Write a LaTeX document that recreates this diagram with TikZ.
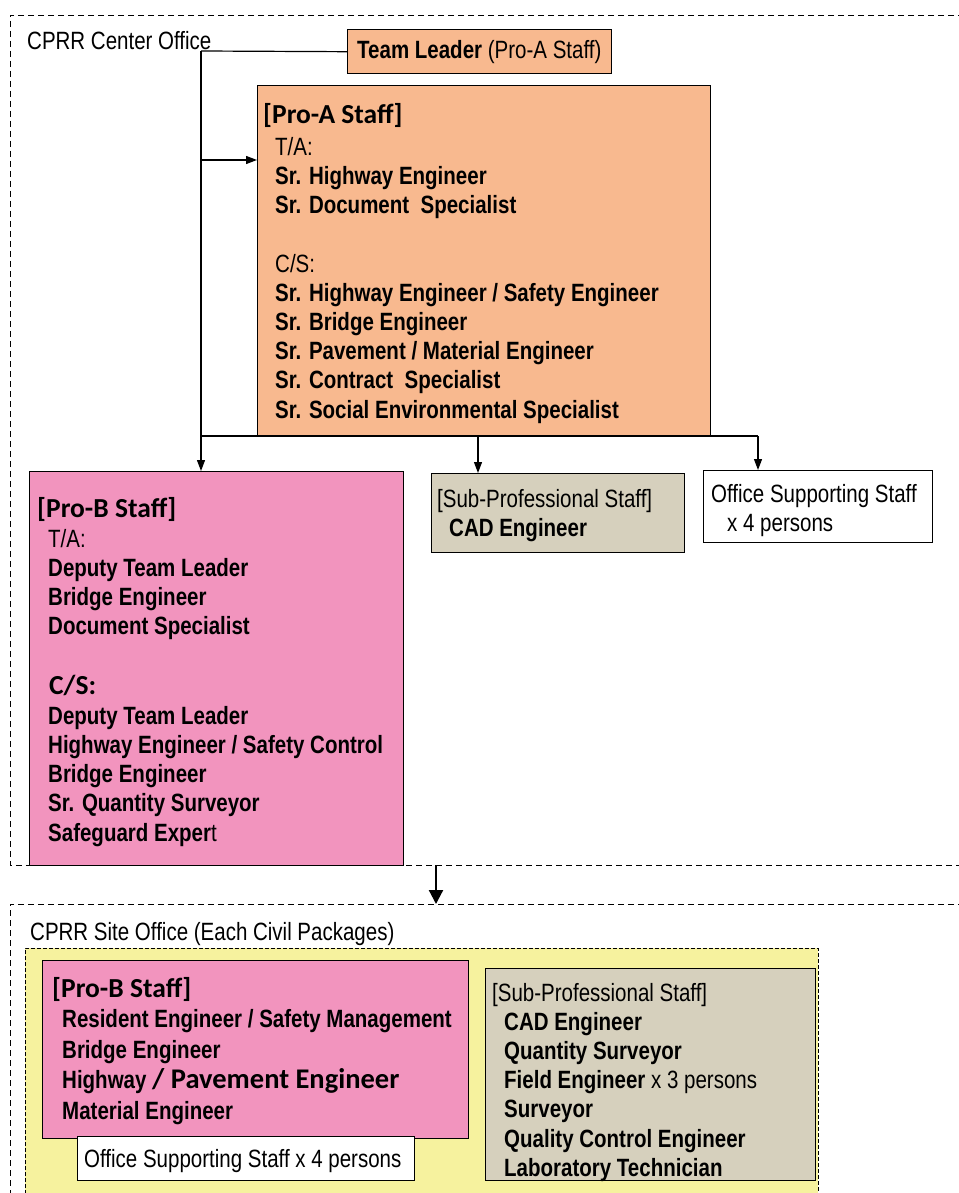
\documentclass[tikz,border=0pt]{standalone}
\usepackage{fontspec}
\setmainfont{Liberation Sans}[FakeStretch=0.82]
\newfontfamily\headfont{Carlito}
\usepackage{tikz}
\usetikzlibrary{arrows.meta, positioning}
\usepackage{xcolor}

\definecolor{proapeach}{HTML}{F8B98F}
\definecolor{probpink}{HTML}{F294BE}
\definecolor{subtan}{HTML}{D6D0BD}
\definecolor{siteyellow}{HTML}{F6F29E}

\tikzset{
    officeframe/.style={line width=0.9pt, dash pattern=on 6pt off 4pt},
    staffbox/.style={draw=black, line width=1.4pt, anchor=north west, inner sep=0pt},
    stafflist/.style={anchor=north west, inner sep=0pt, align=left,
        font=\fontsize{25}{29.2}\selectfont\bfseries},
    stafftitle/.style={anchor=base west, inner sep=0pt,
        font=\headfont\bfseries\fontsize{27.5}{30}\selectfont},
    plainlabel/.style={anchor=base west, inner sep=0pt,
        font=\fontsize{25}{29}\selectfont},
    link/.style={line width=1.2pt}
}

\begin{document}
\begin{tikzpicture}[x=1pt, y=-1pt, >={Triangle[length=11pt, width=8pt]}]
    \useasboundingbox (0,0) rectangle (958,1193);

    % Center office frame
    \draw[officeframe] (964,15) -- (10,15) -- (10,865) -- (964,865);
    \node[plainlabel] (center) at (27,50) {CPRR Center Office};

    % Team leader
    \node[staffbox, fill=proapeach, minimum width=264, minimum height=44] (leader) at (347,29) {};
    \node[plainlabel] (leadertext) at (357,59) {\textbf{Team Leader} (Pro-A Staff)};

    % Pro-A staff
    \node[staffbox, fill=proapeach, minimum width=453, minimum height=351] (proA) at (257,85) {};
    \node[stafftitle] (proAtitle) at (263,124) {[Pro-A Staff]};
    \node[stafflist] (proAlist) at (275,137) {
        {\mdseries T/A:}\\
        Sr. Highway Engineer\\
        Sr. Document\ \ Specialist\\[29.2pt]
        {\mdseries C/S:}\\
        Sr. Highway Engineer / Safety Engineer\\
        Sr. Bridge Engineer\\
        Sr. Pavement / Material Engineer\\
        Sr. Contract\ \ Specialist\\
        Sr. Social Environmental Specialist
    };

    % Pro-B staff
    \node[staffbox, fill=probpink, minimum width=374, minimum height=394] (proB) at (29,471) {};
    \node[stafftitle] (proBtitle) at (37,517) {[Pro-B Staff]};
    \node[stafflist] (proBta) at (48,529) {
        {\mdseries T/A:}\\
        Deputy Team Leader\\
        Bridge Engineer\\
        Document Specialist
    };
    \node[stafftitle] (proBcs) at (49,694) {C/S:};
    \node[stafflist] (proBlist) at (48,706) {
        Deputy Team Leader\\
        Highway Engineer / Safety Control\\
        Bridge Engineer\\
        Sr. Quantity Surveyor\\
        Safeguard Exper{\mdseries t}
    };

    % Sub-professional staff
    \node[staffbox, fill=subtan, minimum width=253, minimum height=79] (subA) at (431,473) {};
    \node[plainlabel] (subAtitle) at (437,507) {[Sub-Professional Staff]};
    \node[stafflist] (subAlist) at (449,518) {CAD Engineer};

    % Office supporting staff
    \node[staffbox, fill=white, minimum width=229, minimum height=72] (supportA) at (703,470) {};
    \node[plainlabel, align=left, anchor=north west] (supportAtext) at (711,484)
        {Office Supporting Staff\\\hspace*{16pt}x 4 persons};

    % Connectors
    \coordinate (trunk) at (201,51);
    \coordinate (tajoin) at (201,160);
    \coordinate (split) at (201,436);
    \coordinate (subdrop) at (478,436);
    \coordinate (supportdrop) at (758,436);
    \draw[link] (trunk) -- (leader.west);
    \draw[link, ->] (trunk) -- (trunk |- proB.north);
    \draw[link, ->] (tajoin) -- (tajoin -| proA.west);
    \draw[link] (split) -- (supportdrop);
    \draw[link, ->] (subdrop) -- (subdrop |- subA.north);
    \draw[link, ->] (supportdrop) -- (supportdrop |- supportA.north);

    % Down to the site office
    \coordinate (handover) at (436,865);
    \coordinate (siteentry) at (436,904);
    \draw[line width=2.2pt, -{Triangle[length=14pt, width=14pt]}] (handover) -- (siteentry);

    % Site office frame
    \draw[officeframe] (964,904) -- (10,904) -- (10,1200);
    \node[plainlabel] (site) at (30,940) {CPRR Site Office (Each Civil Packages)};
    \fill[siteyellow] (25,948) rectangle (818,1200);
    \draw[line width=0.9pt, dash pattern=on 4pt off 2pt] (25,1200) -- (25,948) -- (818,948) -- (818,1200);

    % Site Pro-B staff
    \node[staffbox, fill=probpink, minimum width=426, minimum height=178] (siteB) at (42,960) {};
    \node[stafftitle] (siteBtitle) at (52,997) {[Pro-B Staff]};
    \node[stafflist, font=\fontsize{25}{30.8}\selectfont\bfseries] (siteBlist) at (62,1009) {
        Resident Engineer / Safety Management\\
        Bridge Engineer\\
        Highway {\headfont\fontsize{28.5}{30}\selectfont / Pavement Engineer}\\
        Material Engineer
    };
    \node[staffbox, fill=white, minimum width=337, minimum height=44] (siteSupport) at (77,1136) {};
    \node[plainlabel] (siteSupporttext) at (84,1167) {Office Supporting Staff x 4 persons};

    % Site sub-professional staff
    \node[staffbox, fill=subtan, minimum width=330, minimum height=212] (siteSub) at (485,968) {};
    \node[plainlabel] (siteSubtitle) at (492,1001) {[Sub-Professional Staff]};
    \node[stafflist] (siteSublist) at (504,1012) {
        CAD Engineer\\
        Quantity Surveyor\\
        Field Engineer{\mdseries\ x 3 persons}\\
        Surveyor\\
        Quality Control Engineer\\
        Laboratory Technician
    };
\end{tikzpicture}
\end{document}
